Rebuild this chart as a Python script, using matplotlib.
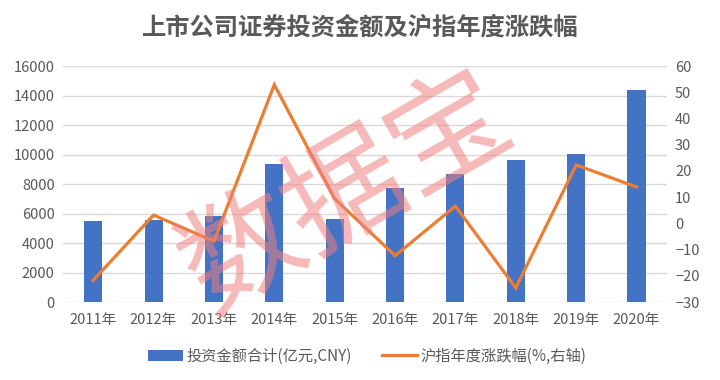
import numpy as np
import matplotlib
matplotlib.use("Agg")
from matplotlib import pyplot as plt

plt.rcParams['font.family'] = ['Noto Sans CJK SC', 'DejaVu Sans']

years = ['2011年', '2012年', '2013年', '2014年', '2015年',
         '2016年', '2017年', '2018年', '2019年', '2020年']
invest = [5500, 5580, 5830, 9370, 5640, 7730, 8680, 9640, 10040, 14380]
sh_change = [-21.7, 3.2, -6.8, 52.9, 9.4, -12.3, 6.6, -24.6, 22.3, 13.9]

blue = '#4472C4'
orange = '#ED7D31'
gray = '#595959'

fig = plt.figure(figsize=(7.2, 3.8), dpi=100)
ax = fig.add_axes([0.0875, 0.205, 0.8385, 0.621])
ax2 = ax.twinx()

x = np.arange(len(years))
bars = ax.bar(x, invest, width=0.3, color=blue, zorder=2)
line, = ax2.plot(x, sh_change, color=orange, lw=2.3, zorder=3,
                 solid_joinstyle='miter')

ax.set_xlim(-0.5, len(years) - 0.5)
ax.set_ylim(0, 16000)
ax.set_yticks(np.arange(0, 16001, 2000))
ax2.set_ylim(-30, 60)
ax2.set_yticks(np.arange(-30, 61, 10))
ax.set_xticks(x)
ax.set_xticklabels(years)

ax.grid(axis='y', color='#D9D9D9', lw=1, zorder=0)
for a in (ax, ax2):
    for s in a.spines.values():
        s.set_visible(False)
    a.tick_params(length=0, labelsize=10.5, colors=gray)
    for lab in a.get_xticklabels() + a.get_yticklabels():
        lab.set_fontweight('light')
ax.tick_params(axis='x', pad=8)
ax.tick_params(axis='y', pad=6)
ax2.tick_params(axis='y', pad=6)

fig.text(0.5, 0.928, '上市公司证券投资金额及沪指年度涨跌幅', ha='center', va='center',
         fontsize=17.5, fontweight='bold', color=gray)

leg = fig.legend([bars, line], ['投资金额合计(亿元,CNY)', '沪指年度涨跌幅(%,右轴)'],
                 loc='center', bbox_to_anchor=(0.51, 0.063), ncol=2, frameon=False,
                 fontsize=11, labelcolor=gray, handlelength=2.3, handletextpad=0.2,
                 columnspacing=2.0)
for t in leg.get_texts():
    t.set_fontweight('light')

# watermark
fig.text(0.482, 0.487, '数据宝', ha='center', va='center', rotation=30,
         fontsize=86, fontweight='medium', color='#F08080', alpha=0.55, zorder=10)

fig.savefig('out.png', dpi=100)
